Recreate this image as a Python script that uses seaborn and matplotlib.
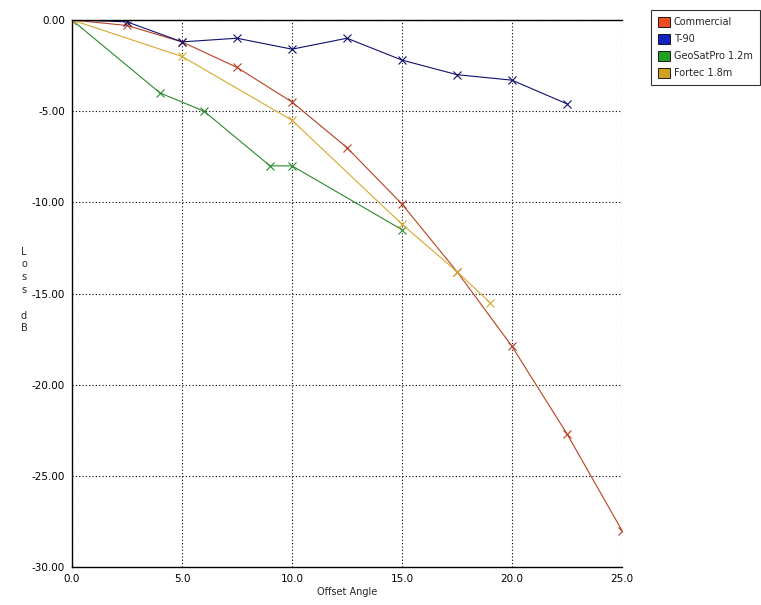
import matplotlib
matplotlib.use("Agg")
import matplotlib.pyplot as plt
import seaborn as sns
import pandas as pd
from matplotlib.patches import Patch

sns.set_style("white")
plt.rcParams['font.family'] = ['DejaVu Sans']

series_names = ["Commercial", "T-90", "GeoSatPro 1.2m", "Fortec 1.8m"]

commercial_x = [0, 2.5, 5, 7.5, 10, 12.5, 15, 17.5, 20, 22.5, 25]
commercial_y = [0, -0.3, -1.2, -2.6, -4.5, -7.0, -10.1, -13.8, -17.9, -22.7, -28.0]

t90_x = [0, 2.5, 5, 7.5, 10, 12.5, 15, 17.5, 20, 22.5]
t90_y = [0, -0.1, -1.2, -1.0, -1.6, -1.0, -2.2, -3.0, -3.3, -4.6]

geosat_x = [0, 4, 6, 9, 10, 15]
geosat_y = [0, -4.0, -5.0, -8.0, -8.0, -11.5]

fortec_x = [0, 5, 10, 15, 17.5, 19]
fortec_y = [0, -2.0, -5.5, -11.2, -13.8, -15.5]

line_colors = ["#b84020", "#101070", "#2a8a2a", "#d8a830"]
legend_colors = ["#f04a22", "#1022c0", "#22a022", "#d0a020"]

frames = []
for name, xs, ys in zip(series_names,
                        [commercial_x, t90_x, geosat_x, fortec_x],
                        [commercial_y, t90_y, geosat_y, fortec_y]):
    frames.append(pd.DataFrame({"angle": xs, "loss": ys, "series": name}))
df = pd.concat(frames, ignore_index=True)

fig = plt.figure(figsize=(7.61, 6.05), dpi=100)
ax = fig.add_axes([72/761, 1-567/605, (622-72)/761, (567-20)/605])

sns.lineplot(data=df, x="angle", y="loss", hue="series", hue_order=series_names,
             palette=dict(zip(series_names, line_colors)), marker="x",
             markersize=5.5, markeredgewidth=0.8, linewidth=0.8, sort=False,
             estimator=None, legend=False, ax=ax)
for ln in ax.lines:
    ln.set_markeredgecolor(ln.get_color())
    ln.set_markerfacecolor(ln.get_color())

ax.set_xlim(0, 25)
ax.set_ylim(-30, 0)
xt = [0, 5, 10, 15, 20, 25]
yt = [0, -5, -10, -15, -20, -25, -30]
ax.set_xticks(xt)
ax.set_xticklabels([f"{v:.1f}" for v in xt])
ax.set_yticks(yt)
ax.set_yticklabels([f"{v:.2f}" for v in yt])
ax.tick_params(axis="both", labelsize=7.5, direction="out", length=3, width=0.8,
               colors="black", pad=2)
ax.grid(True, color="black", linestyle=(0, (1, 2)), linewidth=0.8)
for s in ["left", "bottom", "top"]:
    ax.spines[s].set_color("black")
    ax.spines[s].set_linewidth(1.0)
ax.spines["right"].set_visible(False)
ax.set_xlabel("")
ax.set_ylabel("")

fig.text(347/761, 1-592/605, "Offset Angle", ha="center", va="center", fontsize=7)
fig.text(24/761, 1-290/605, "L\no\ns\ns\n\nd\nB", ha="center", va="center",
         fontsize=7, linespacing=1.35)

handles = [Patch(facecolor=c, edgecolor="black", linewidth=0.6) for c in legend_colors]
leg = fig.legend(handles, series_names, loc="upper left",
                 bbox_to_anchor=(651/761, 1-10/605), borderaxespad=0, fontsize=7,
                 frameon=True, fancybox=False, handlelength=1.25, handleheight=1.3,
                 handletextpad=0.4, borderpad=0.7, labelspacing=0.65)
leg.get_frame().set_edgecolor("black")
leg.get_frame().set_linewidth(0.8)

fig.savefig("out.png", dpi=100)
